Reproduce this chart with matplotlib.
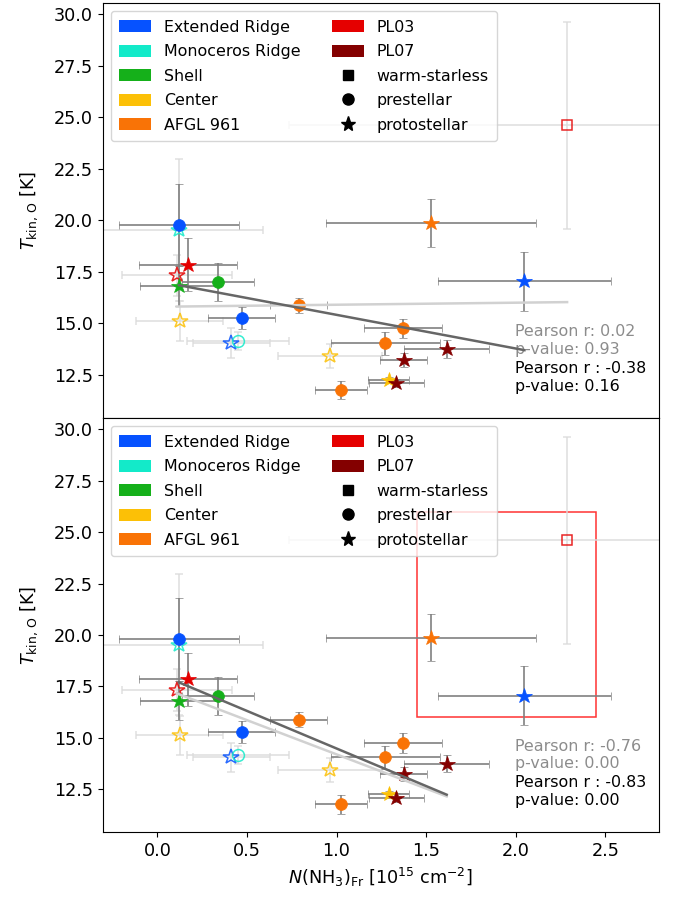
import matplotlib.pyplot as plt
import numpy as np
from matplotlib.patches import Patch, Rectangle
from matplotlib.lines import Line2D

regions = ['Extended Ridge', 'Monoceros Ridge', 'Shell', 'Center', 'AFGL 961', 'PL03', 'PL07']
region_colors = ['#0652ff', '#13eac9', '#15b01a', '#fcc006', '#f97306', '#e50000', '#840000']
types = ['warm-starless', 'prestellar', 'protostellar']
type_markers = ['s', 'o', '*']
type_ms = [6.5, 8.5, 11.5]

# filled symbols (dark error bars)
reg_f = ['Extended Ridge', 'Extended Ridge', 'Extended Ridge', 'Shell', 'Shell', 'Center',
         'AFGL 961', 'AFGL 961', 'AFGL 961', 'AFGL 961', 'AFGL 961', 'PL03', 'PL07', 'PL07', 'PL07']
typ_f = ['prestellar', 'prestellar', 'protostellar', 'prestellar', 'protostellar', 'protostellar',
         'prestellar', 'prestellar', 'prestellar', 'prestellar', 'protostellar', 'protostellar',
         'protostellar', 'protostellar', 'protostellar']
x_f = [0.121, 0.471, 2.049, 0.337, 0.121, 1.291, 0.788, 1.373, 1.272, 1.024, 1.529, 0.173, 1.374, 1.615, 1.334]
xerr_f = [0.333, 0.186, 0.484, 0.20, 0.22, 0.116, 0.158, 0.217, 0.305, 0.144, 0.587, 0.274, 0.13, 0.237, 0.153]
y_f = [19.78, 15.26, 17.05, 17.02, 16.81, 12.25, 15.87, 14.75, 14.04, 11.76, 19.87, 17.84, 13.23, 13.74, 12.09]
yerr_f = [2.0, 0.53, 1.43, 0.93, 0.97, 0.15, 0.36, 0.48, 0.56, 0.46, 1.16, 1.29, 0.35, 0.43, 0.2]

# open symbols (light error bars)
reg_h = ['Monoceros Ridge', 'PL03', 'Center', 'Extended Ridge', 'Monoceros Ridge', 'Center', 'PL03']
typ_h = ['protostellar', 'protostellar', 'protostellar', 'protostellar', 'prestellar', 'protostellar',
         'warm-starless']
x_h = [0.121, 0.108, 0.125, 0.413, 0.449, 0.965, 2.287]
xerr_h = [0.466, 0.306, 0.242, 0.215, 0.285, 0.289, 1.55]
y_h = [19.53, 17.32, 15.11, 14.04, 14.15, 13.42, 24.61]
yerr_h = [3.44, 1.0, 0.96, 0.71, 0.45, 0.59, 5.03]

# region left out of the fit in the lower panel: x0, y0, width, height
box = [1.45, 16.0, 1.0, 10.0]

stats_all = ['Pearson r: 0.02\np-value: 0.93', 'Pearson r: -0.76\np-value: 0.00']
stats_filled = ['Pearson r : -0.38\np-value: 0.16', 'Pearson r : -0.83\np-value: 0.00']


def in_box(x, y):
    x = np.asarray(x)
    y = np.asarray(y)
    return (x > box[0]) & (x < box[0] + box[2]) & (y > box[1]) & (y < box[1] + box[3])


def draw_panel(ax, panel, cut):
    for i in range(len(x_h)):
        col = region_colors[regions.index(reg_h[i])]
        t = types.index(typ_h[i])
        ax.errorbar(x_h[i], y_h[i], xerr=xerr_h[i], yerr=yerr_h[i], fmt=type_markers[t],
                    ms=type_ms[t], mfc='none', mec=col, mew=1.1, ecolor='0.86',
                    elinewidth=1.2, capsize=3, alpha=0.85)
    for i in range(len(x_f)):
        col = region_colors[regions.index(reg_f[i])]
        t = types.index(typ_f[i])
        ax.errorbar(x_f[i], y_f[i], xerr=xerr_f[i], yerr=yerr_f[i], fmt=type_markers[t],
                    ms=type_ms[t], color=col, mec=col, mew=0.5, ecolor='0.5',
                    elinewidth=1.2, capsize=3)

    xa = np.array(x_f + x_h)
    ya = np.array(y_f + y_h)
    xf = np.array(x_f)
    yf = np.array(y_f)
    if cut:
        keep = ~in_box(xa, ya)
        xa, ya = xa[keep], ya[keep]
        keep = ~in_box(xf, yf)
        xf, yf = xf[keep], yf[keep]
        ax.add_patch(Rectangle((box[0], box[1]), box[2], box[3], fill=False,
                               edgecolor='red', alpha=0.8, lw=1.1))

    for xs, ys, c in [(xa, ya, '0.82'), (xf, yf, '0.4')]:
        coef = np.polyfit(xs, ys, 1)
        xx = np.array([xs.min(), xs.max()])
        ax.plot(xx, np.polyval(coef, xx), color=c, lw=1.8, zorder=5)

    ax.text(0.741, 0.187, stats_all[panel], transform=ax.transAxes, color='0.55',
            va='center', fontsize=11.4)
    ax.text(0.741, 0.098, stats_filled[panel], transform=ax.transAxes, color='k',
            va='center', fontsize=11.4)

    handles = [Patch(facecolor=c, label=r) for r, c in zip(regions, region_colors)]
    handles += [Line2D([], [], ls='', marker=m, color='k', ms=s, label=t)
                for t, m, s in zip(types, type_markers, [7.5, 8, 11])]
    ax.legend(handles=handles, ncol=2, loc='upper left', fontsize=11.4,
              labelspacing=0.6, borderpad=0.55, handleheight=0.8)

    ax.set_ylabel(r'$T_{\rm kin,\,O}$ [K]', fontsize=12.7, labelpad=10)
    ax.tick_params(labelsize=12.7)
    ax.set_xlim(-0.305, 2.8)
    ax.set_ylim(10.4, 30.55)
    ax.set_yticks(np.arange(12.5, 30.1, 2.5))


fig = plt.figure(figsize=(6.73, 8.99), dpi=100)
ax1 = fig.add_axes([0.1526, 0.535, 0.8266, 0.4617])
ax2 = fig.add_axes([0.1526, 0.0742, 0.8266, 0.4608], sharex=ax1)

draw_panel(ax1, 0, False)
draw_panel(ax2, 1, True)
ax1.tick_params(labelbottom=False)
ax2.set_xlabel(r'$N(\mathrm{NH_3})_\mathrm{Fr}$ [10$^{15}$ cm$^{-2}$]', fontsize=12.7)

fig.savefig('out.png', dpi=100)
